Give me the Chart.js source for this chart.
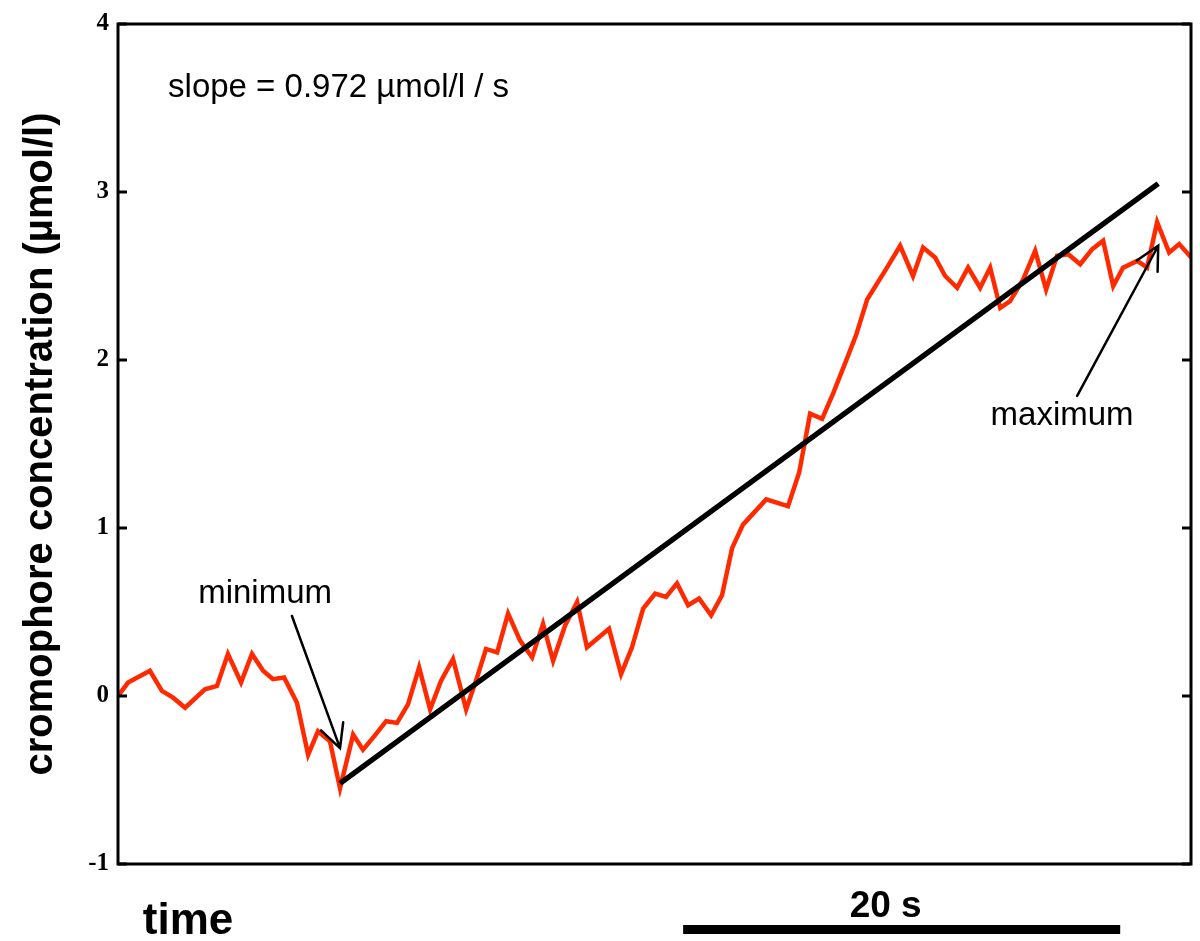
<!DOCTYPE html>
<html>
<head>
<meta charset="utf-8">
<title>cromophore concentration</title>
<script src="https://cdn.jsdelivr.net/npm/chart.js@4.4.1/dist/chart.umd.min.js"></script>
<style>
  html, body { margin: 0; padding: 0; background: #fff; }
  #wrap { width: 1200px; height: 941px; }
</style>
</head>
<body>
<div id="wrap"><canvas id="chart" width="1200" height="941"></canvas></div>
<script>
// Trace: time (s) and concentration (µmol/l)
const timeSec = [
  0.0, 0.46, 1.46, 2.01, 2.52, 3.07, 3.98, 4.53, 5.03, 5.63,
  6.13, 6.64, 7.09, 7.60, 8.19, 8.70, 9.15, 9.70, 10.16, 10.76,
  11.21, 11.72, 12.27, 12.77, 13.27, 13.78, 14.28, 14.78, 15.33, 15.93,
  16.43, 16.84, 17.35, 17.85, 18.40, 18.95, 19.45, 19.91, 20.46, 21.01,
  21.46, 22.47, 23.02, 23.52, 24.03, 24.58, 25.08, 25.58, 26.09, 26.59,
  27.14, 27.64, 28.10, 28.60, 29.66, 30.66, 31.17, 31.67, 32.22, 32.72,
  33.27, 33.78, 34.28, 35.19, 35.79, 36.38, 36.84, 37.39, 37.85, 38.40,
  38.90, 39.45, 39.91, 40.37, 40.82, 41.42, 41.97, 42.47, 42.97, 43.48,
  44.03, 44.58, 45.08, 45.54, 45.99, 46.64, 47.09, 47.55, 48.10, 48.56,
  49.11
];
const concentration = [
  0.00, 0.08, 0.15, 0.03, -0.01, -0.07, 0.04, 0.06, 0.25, 0.08,
  0.25, 0.15, 0.10, 0.11, -0.04, -0.35, -0.21, -0.27, -0.55, -0.23,
  -0.32, -0.24, -0.15, -0.16, -0.05, 0.17, -0.08, 0.09, 0.22, -0.08,
  0.11, 0.28, 0.26, 0.49, 0.33, 0.23, 0.43, 0.21, 0.42, 0.56,
  0.29, 0.40, 0.13, 0.29, 0.52, 0.61, 0.59, 0.67, 0.54, 0.58,
  0.48, 0.60, 0.88, 1.02, 1.17, 1.13, 1.33, 1.68, 1.65, 1.80,
  1.98, 2.15, 2.36, 2.55, 2.68, 2.50, 2.67, 2.61, 2.50, 2.43,
  2.55, 2.43, 2.55, 2.31, 2.35, 2.48, 2.65, 2.42, 2.62, 2.63,
  2.57, 2.66, 2.71, 2.44, 2.55, 2.59, 2.55, 2.82, 2.64, 2.69,
  2.61
];

// Regression line, minimum to maximum
const fitTime = [10.16, 47.6];
const fitConc = [-0.52, 3.05];

const yTicks = [-1, 0, 1, 2, 3, 4];
const xRange = [0, 49.1];

// 20 s scale bar (in seconds on the time axis)
const scaleBarSec = [25.86, 45.86];

// annotation arrows: [time, conc] tail -> tip
const minArrow = [[7.96, 0.476], [10.16, -0.31]];
const maxArrow = [[43.89, 1.786], [47.6, 2.68]];

const slopeText = 'slope = 0.972 \u00b5mol/l / s';

const SANS = '"Liberation Sans", Arial, sans-serif';
const SERIF = '"Liberation Serif", "Times New Roman", serif';

function drawArrow(ctx, x0, y0, x1, y1) {
    const ang = Math.atan2(y0 - y1, x0 - x1);
    const len = 26, spread = 27 * Math.PI / 180;
    ctx.beginPath();
    ctx.moveTo(x0, y0);
    ctx.lineTo(x1, y1);
    ctx.moveTo(x1 + len * Math.cos(ang - spread), y1 + len * Math.sin(ang - spread));
    ctx.lineTo(x1, y1);
    ctx.lineTo(x1 + len * Math.cos(ang + spread), y1 + len * Math.sin(ang + spread));
    ctx.stroke();
}

// Frame, inward ticks, labels and the scale bar
const decorPlugin = {
    id: 'decor',
    afterDraw(chart) {
        const { ctx, chartArea: a, scales: { x, y } } = chart;
        ctx.save();
        ctx.strokeStyle = '#000';
        ctx.fillStyle = '#000';

        // box
        ctx.lineWidth = 3;
        ctx.strokeRect(a.left, a.top, a.right - a.left, a.bottom - a.top);

        // inward ticks on both sides
        yTicks.forEach(v => {
            const py = y.getPixelForValue(v);
            ctx.beginPath();
            ctx.moveTo(a.left, py);
            ctx.lineTo(a.left + 9, py);
            ctx.moveTo(a.right, py);
            ctx.lineTo(a.right - 9, py);
            ctx.stroke();
        });

        // arrows
        ctx.lineWidth = 2.5;
        ctx.lineCap = 'round';
        [minArrow, maxArrow].forEach(arr => {
            drawArrow(ctx,
                x.getPixelForValue(arr[0][0]), y.getPixelForValue(arr[0][1]),
                x.getPixelForValue(arr[1][0]), y.getPixelForValue(arr[1][1]));
        });

        // annotation text
        ctx.font = '33px ' + SANS;
        ctx.textBaseline = 'middle';
        ctx.textAlign = 'left';
        ctx.fillText(slopeText, x.getPixelForValue(2.29), y.getPixelForValue(3.62));
        ctx.textAlign = 'center';
        ctx.fillText('minimum', x.getPixelForValue(6.73), y.getPixelForValue(0.61));
        ctx.fillText('maximum', x.getPixelForValue(43.2), y.getPixelForValue(1.67));

        // scale bar under the plot
        const bx0 = x.getPixelForValue(scaleBarSec[0]);
        const bx1 = x.getPixelForValue(scaleBarSec[1]);
        ctx.fillRect(bx0, a.bottom + 61, bx1 - bx0, 9);
        ctx.font = 'bold 37px ' + SANS;
        ctx.textBaseline = 'alphabetic';
        ctx.fillText('20 s', (bx0 + bx1) / 2 - 16, a.bottom + 53);

        // axis word under the left part
        ctx.font = 'bold 44px ' + SANS;
        ctx.fillText('time', a.left + 70, a.bottom + 70);
        ctx.restore();
    }
};

const ctx = document.getElementById('chart').getContext('2d');

new Chart(ctx, {
    type: 'scatter',
    data: {
        datasets: [
            {
                label: 'concentration',
                data: timeSec.map((t, i) => ({ x: t, y: concentration[i] })),
                showLine: true,
                borderColor: '#ff2a00',
                borderWidth: 4.5,
                pointRadius: 0,
                tension: 0,
                order: 2
            },
            {
                label: 'fit',
                data: fitTime.map((t, i) => ({ x: t, y: fitConc[i] })),
                showLine: true,
                borderColor: '#000',
                borderWidth: 5.5,
                pointRadius: 0,
                order: 1
            }
        ]
    },
    options: {
        responsive: false,
        animation: false,
        layout: { padding: { left: 0, top: 22, right: 9, bottom: 77 } },
        plugins: {
            legend: { display: false },
            tooltip: { enabled: false }
        },
        scales: {
            x: {
                type: 'linear',
                min: xRange[0],
                max: xRange[1],
                display: false
            },
            y: {
                min: yTicks[0],
                max: yTicks[yTicks.length - 1],
                border: { display: false },
                grid: { display: false, drawTicks: false },
                ticks: {
                    stepSize: 1,
                    padding: 9,
                    color: '#000',
                    font: { family: SERIF, size: 25, weight: 'bold' }
                },
                title: {
                    display: true,
                    text: 'cromophore concentration (\u00b5mol/l)',
                    color: '#000',
                    font: { family: SANS, size: 40, weight: 'bold' },
                    padding: { top: 17, bottom: 0 }
                },
                afterFit(scale) {
                    scale.width = 118;
                }
            }
        }
    },
    plugins: [decorPlugin]
});
</script>
</body>
</html>
